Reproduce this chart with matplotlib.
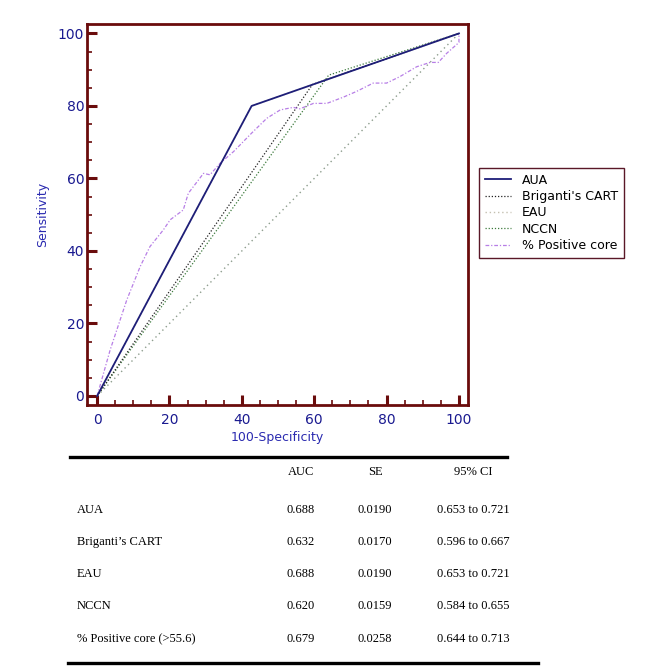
import matplotlib
matplotlib.use("Agg")
import matplotlib.pyplot as plt
from matplotlib.lines import Line2D
import numpy as np

#%% data
aua_x=[0,42.7,100]
aua_y=[0,80,100]
brig_x=[0,59.5,100]
brig_y=[0,85.9,100]
eau_x=[0,42.7,100]
eau_y=[0,80,100]
nccn_x=[0,64,100]
nccn_y=[0,88.5,100]
diag_x=[0,100]
diag_y=[0,100]
core_x=[0,3.6,8.2,11.9,14.6,18.3,20.2,23.8,25.2,29.4,31.2,34.0,37.7,42.7,
        46.9,50.6,54.2,56.0,59.8,63.5,68.0,71.7,76.3,80.0,83.7,88.3,92.0,
        94.3,96.6,100,100]
core_y=[0,12.7,26.5,35.7,41.2,45.8,48.6,51.3,55.9,61.4,61.0,64.2,67.4,72.5,
        76.6,78.9,79.6,79.2,80.7,80.7,82.4,84.0,86.3,86.3,88.1,90.8,92.0,
        92.0,94.5,97.5,100]

#table
row_names=["AUA","Briganti\u2019s CART","EAU","NCCN","% Positive core (>55.6)"]
auc=["0.688","0.632","0.688","0.620","0.679"]
se=["0.0190","0.0170","0.0190","0.0159","0.0258"]
ci=["0.653 to 0.721","0.596 to 0.667","0.653 to 0.721","0.584 to 0.655",
    "0.644 to 0.713"]

W,H=670,669
frame_c="#6a0c0c"
tick_c="#1a1a90"
lab_c="#2a2ab0"

fig=plt.figure(figsize=(W/100,H/100),dpi=100)
ax=fig.add_axes([87/W,1-405/H,381/W,381/H])

ax.plot(diag_x,diag_y,color="#8d9d8d",linestyle=(0,(1,2.5)),lw=1.0)
ax.plot(eau_x,eau_y,color="#c4c0b0",linestyle=(0,(1,2)),lw=1.0,label="EAU")
ax.plot(nccn_x,nccn_y,color="#3d7a3d",linestyle=(0,(1,1.5)),lw=0.9,label="NCCN")
ax.plot(brig_x,brig_y,color="#222222",linestyle=(0,(1,1.5)),lw=0.9,
        label="Briganti\u2019s CART")
ax.plot(core_x,core_y,color="#b77ee6",linestyle=(0,(3,1.5,1,1.5)),lw=0.9,
        label="% Positive core")
ax.plot(aua_x,aua_y,color="#1e1e78",lw=1.3,label="AUA")

ax.set_xlim(-2.8,102.5)
ax.set_ylim(-2.5,102.6)
ax.set_xticks(np.arange(0,101,20))
ax.set_yticks(np.arange(0,101,20))
ax.set_xticks(np.arange(0,101,5),minor=True)
ax.set_yticks(np.arange(0,101,5),minor=True)
ax.tick_params(which="major",direction="in",length=7.5,width=2.2,color=frame_c,
               labelcolor=tick_c,labelsize=10,pad=5.5)
ax.tick_params(which="minor",direction="in",length=3.8,width=1.2,color=frame_c)
ax.tick_params(axis="y",which="major",pad=2)
for s in ax.spines.values():
    s.set_color(frame_c)
    s.set_linewidth(2.0)

ax.set_xlabel("100-Specificity",color=lab_c,fontsize=9,labelpad=3)
ax.set_ylabel("Sensitivity",color=lab_c,fontsize=9,labelpad=6)

h,l=ax.get_legend_handles_labels()
order=["AUA","Briganti\u2019s CART","EAU","NCCN","% Positive core"]
hd=dict(zip(l,h))
leg=fig.legend([hd[k] for k in order],["AUA","Briganti's CART","EAU","NCCN",
               "% Positive core"],loc="upper left",
               bbox_to_anchor=(479/W,1-168/H),fontsize=9,fancybox=False,
               framealpha=1,edgecolor="#5a1828",handlelength=2.1,
               handletextpad=0.9,labelspacing=0.27,borderpad=0.45,
               borderaxespad=0)
leg.get_frame().set_linewidth(1.0)

#table lines
fig.add_artist(Line2D([70/W,507/W],[1-457/H,1-457/H],color="black",lw=2.4))
fig.add_artist(Line2D([68/W,538/W],[1-663/H,1-663/H],color="black",lw=2.4))

serif="Liberation Serif"
fs=9
hy=1-472/H
fig.text(301/W,hy,"AUC",ha="center",va="center",family=serif,fontsize=fs)
fig.text(375/W,hy,"SE",ha="center",va="center",family=serif,fontsize=fs)
fig.text(473/W,hy,"95% CI",ha="center",va="center",family=serif,fontsize=fs)
rows_y=[510,542,574,606,639]
for i in range(len(row_names)):
    y=1-rows_y[i]/H
    fig.text(77/W,y,row_names[i],ha="left",va="center",family=serif,fontsize=fs)
    fig.text(301/W,y,auc[i],ha="center",va="center",family=serif,fontsize=fs)
    fig.text(375/W,y,se[i],ha="center",va="center",family=serif,fontsize=fs)
    fig.text(473/W,y,ci[i],ha="center",va="center",family=serif,fontsize=fs)

fig.savefig("out.png",dpi=100)
